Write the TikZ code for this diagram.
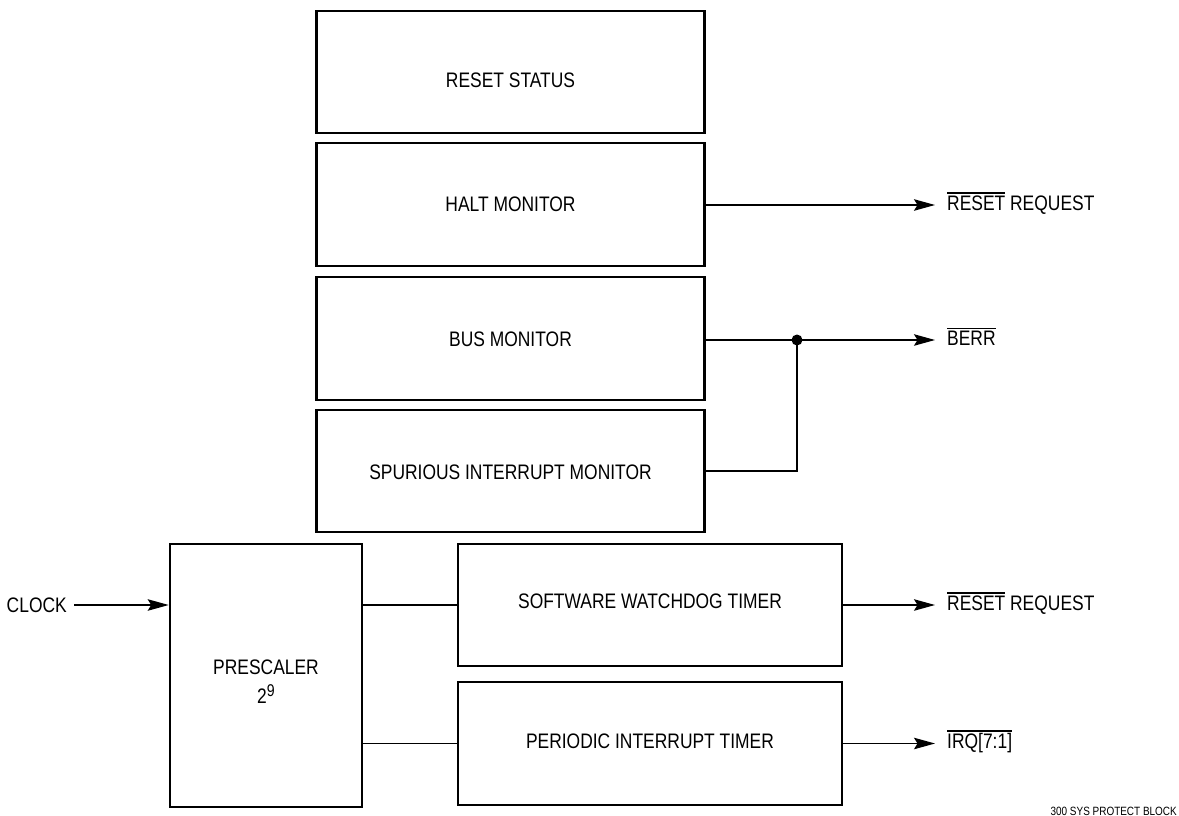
\documentclass[tikz,border=0pt]{standalone}
\usepackage{fontspec}
\setmainfont{Liberation Sans}[FakeStretch=0.83]
\usetikzlibrary{arrows.meta,calc}
\newcommand\ovl[1]{\vbox{\hrule height 1.3pt\kern 1.7pt\hbox{#1}}}
\begin{document}
\begin{tikzpicture}[x=1pt,y=-1pt,
  txt/.style={font=\fontsize{21pt}{29pt}\selectfont, inner sep=0pt, align=center},
  blk/.style={draw, line width=2.6pt, inner sep=0pt, minimum width=388pt},
  wire/.style={line width=1.3pt},
  arr/.style={wire, -{Stealth[length=21pt,width=11.5pt,inset=3.5pt]}},
  sig/.style={txt, anchor=base west},
]
\useasboundingbox (0,0) rectangle (1179,816);

% blocks
\node[blk, minimum height=122pt] (rs) at (510.5,72) {};
\node[txt] (rst) at (510.5,80) {RESET STATUS};
\node[blk, minimum height=123pt] (halt) at (510.5,204.5) {};
\node[txt] (haltt) at (510.5,204) {HALT MONITOR};
\node[blk, minimum height=123pt] (bus) at (510.5,338.5) {};
\node[txt] (bust) at (510.5,339.5) {BUS MONITOR};
\node[blk, minimum height=122pt] (spur) at (510.5,471) {};
\node[txt] (spurt) at (510.5,472) {SPURIOUS INTERRUPT MONITOR};
\node[blk, minimum width=192pt, minimum height=263pt] (pre) at (266,675.5) {};
\node[txt] (pret) at (266,682) {PRESCALER\\2\raisebox{7.5pt}{\fontsize{17pt}{17pt}\selectfont 9}};
\node[blk, minimum width=384pt, minimum height=122pt] (wd) at (650,605) {};
\node[txt] (wdt) at (650,601) {SOFTWARE WATCHDOG TIMER};
\node[blk, minimum width=384pt, minimum height=123pt] (pit) at (650,743.5) {};
\node[txt] (pitt) at (650,741.5) {PERIODIC INTERRUPT TIMER};

% input
\node[txt, anchor=east] (clk) at (67,605) {CLOCK};
\draw[arr] ([xshift=7pt]clk.east) -- (clk.east -| pre.west);

% prescaler to timers
\draw[wire] (wd.west -| pre.east) -- (wd.west);
\draw[wire] (pit.west -| pre.east) -- (pit.west);

% outputs
\coordinate (o1) at (935,205);
\coordinate (o2) at (935,340);
\coordinate (o3) at (935,605);
\coordinate (o4) at (935,743.5);
\node[circle, fill, inner sep=0pt, minimum size=11pt] (j) at (797,340) {};

\draw[arr] (halt.east |- o1) -- (o1);
\draw[wire] (bus.east |- j) -- (j.center);
\draw[arr] (j.center) -- (o2);
\draw[wire] (spur.east) -| (j.center);
\draw[arr] (wd.east |- o3) -- (o3);
\draw[arr] (pit.east |- o4) -- (o4);

\node[sig] (l1) at (947,210) {\ovl{RESET} REQUEST};
\node[sig] (l2) at (947,345) {\ovl{BERR}};
\node[sig] (l3) at (947,610) {\ovl{RESET} REQUEST};
\node[sig] (l4) at (947,748.5) {\ovl{IRQ[7:1]}};

\node[font=\fontsize{12pt}{14pt}\selectfont, inner sep=0pt, anchor=base east] (tag) at (1177,815) {300 SYS PROTECT BLOCK};
\end{tikzpicture}
\end{document}
